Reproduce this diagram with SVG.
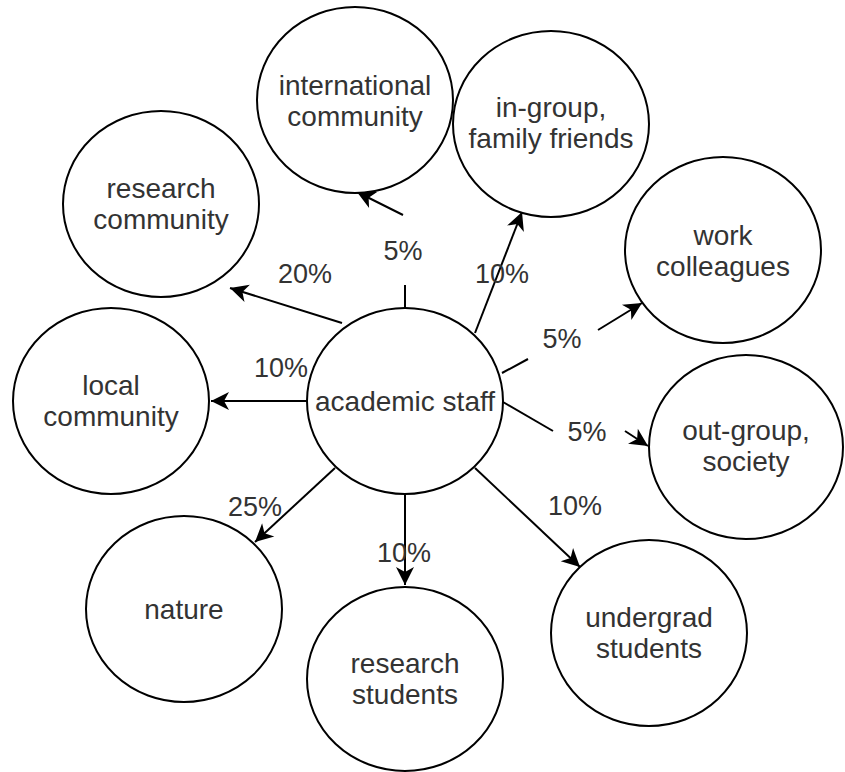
<svg xmlns="http://www.w3.org/2000/svg" width="845" height="772" viewBox="0 0 845 772">
  <style>
    .node { fill: #ffffff; stroke: #000000; stroke-width: 2; }
    .nt { font-family: "Liberation Sans", Arial, sans-serif; font-size: 28px; fill: #333333; text-anchor: middle; }
    .edge { fill: none; stroke: #000000; stroke-width: 2; }
    .lbl { font-family: "Liberation Sans", Arial, sans-serif; font-size: 27px; fill: #333333; text-anchor: middle; }
  </style>
  <defs>
    <marker id="arr" markerWidth="20" markerHeight="20" refX="19" refY="10" orient="auto" markerUnits="userSpaceOnUse" viewBox="0 0 20 20">
      <path d="M19,10 L1,1 L6,10 L1,19 Z" fill="#000000"/>
    </marker>
  </defs>
  <rect x="0" y="0" width="845" height="772" fill="#ffffff"/>

  <g id="connectors">
    <line class="edge" x1="307" y1="401" x2="211" y2="401" marker-end="url(#arr)"/>
    <line class="edge" x1="342" y1="323" x2="230" y2="288" marker-end="url(#arr)"/>
    <line class="edge" x1="405" y1="308" x2="405" y2="285"/>
    <line class="edge" x1="403" y1="215" x2="357" y2="192" marker-end="url(#arr)"/>
    <line class="edge" x1="475" y1="333" x2="522" y2="212" marker-end="url(#arr)"/>
    <line class="edge" x1="502" y1="373" x2="528" y2="359"/>
    <line class="edge" x1="598" y1="330" x2="642" y2="303" marker-end="url(#arr)"/>
    <line class="edge" x1="503" y1="402" x2="553" y2="431"/>
    <line class="edge" x1="625" y1="431" x2="648" y2="446" marker-end="url(#arr)"/>
    <line class="edge" x1="475" y1="468" x2="580" y2="567" marker-end="url(#arr)"/>
    <line class="edge" x1="405" y1="493" x2="405" y2="585" marker-end="url(#arr)"/>
    <line class="edge" x1="335" y1="468" x2="255" y2="542" marker-end="url(#arr)"/>

    <text class="lbl" x="281" y="377">10%</text>
    <text class="lbl" x="305" y="283">20%</text>
    <text class="lbl" x="403" y="260">5%</text>
    <text class="lbl" x="502" y="283">10%</text>
    <text class="lbl" x="562" y="348">5%</text>
    <text class="lbl" x="587" y="441">5%</text>
    <text class="lbl" x="575" y="515">10%</text>
    <text class="lbl" x="404" y="562">10%</text>
    <text class="lbl" x="255" y="516">25%</text>
  </g>

  <g id="academic-staff">
    <ellipse class="node" cx="405" cy="401" rx="98" ry="93"/>
    <text class="nt" x="405" y="411">academic staff</text>
  </g>
  <g id="international-community">
    <ellipse class="node" cx="355" cy="100" rx="98" ry="93"/>
    <text class="nt" x="355" y="95">international</text>
    <text class="nt" x="355" y="126">community</text>
  </g>
  <g id="in-group">
    <ellipse class="node" cx="551" cy="124" rx="98" ry="93"/>
    <text class="nt" x="551" y="117">in-group,</text>
    <text class="nt" x="551" y="148">family friends</text>
  </g>
  <g id="research-community">
    <ellipse class="node" cx="161" cy="204" rx="98" ry="93"/>
    <text class="nt" x="161" y="198">research</text>
    <text class="nt" x="161" y="229">community</text>
  </g>
  <g id="work-colleagues">
    <ellipse class="node" cx="723" cy="250" rx="98" ry="93"/>
    <text class="nt" x="723" y="245">work</text>
    <text class="nt" x="723" y="276">colleagues</text>
  </g>
  <g id="local-community">
    <ellipse class="node" cx="111" cy="401" rx="98" ry="93"/>
    <text class="nt" x="111" y="395">local</text>
    <text class="nt" x="111" y="426">community</text>
  </g>
  <g id="out-group">
    <ellipse class="node" cx="746" cy="447" rx="97" ry="92"/>
    <text class="nt" x="746" y="440">out-group,</text>
    <text class="nt" x="746" y="471">society</text>
  </g>
  <g id="nature">
    <ellipse class="node" cx="184" cy="609" rx="98" ry="93"/>
    <text class="nt" x="184" y="619">nature</text>
  </g>
  <g id="research-students">
    <ellipse class="node" cx="405" cy="679" rx="98" ry="92"/>
    <text class="nt" x="405" y="673">research</text>
    <text class="nt" x="405" y="704">students</text>
  </g>
  <g id="undergrad-students">
    <ellipse class="node" cx="649" cy="633" rx="98" ry="93"/>
    <text class="nt" x="649" y="627">undergrad</text>
    <text class="nt" x="649" y="658">students</text>
  </g>
</svg>
